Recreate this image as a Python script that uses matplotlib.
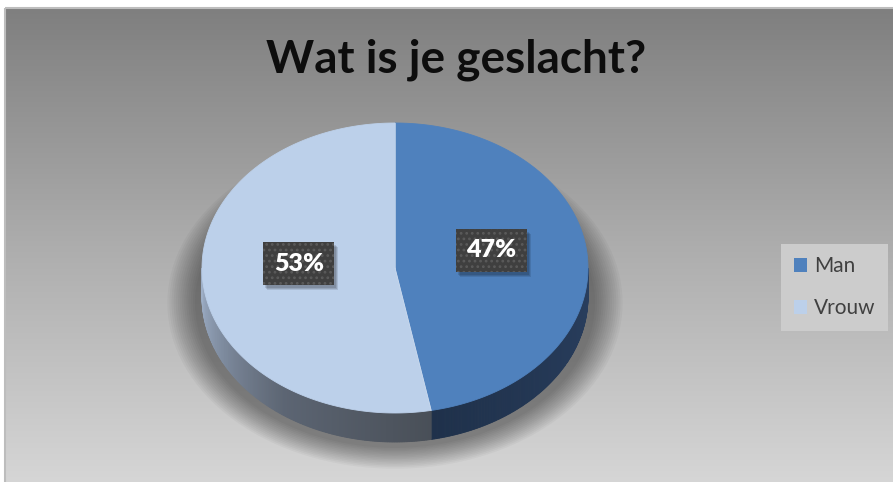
import numpy as np
import matplotlib
matplotlib.use("Agg")
import matplotlib.pyplot as plt
from matplotlib.patches import Polygon, Rectangle, Ellipse, Patch
from matplotlib.colors import LinearSegmentedColormap, to_rgb

# ---- data ----
title = "Wat is je geslacht?"
categories = ["Man", "Vrouw"]
values = [47, 53]
top_colors = ["#4F81BD", "#BCD0EA"]

W, H = 893, 482
FONT = "Lato"

fig = plt.figure(figsize=(W / 100, H / 100), dpi=100)
fig.patch.set_facecolor("white")
ax = fig.add_axes([0, 0, 1, 1])
ax.set_xlim(0, W)
ax.set_ylim(H, 0)
ax.axis("off")

# ---- chart background ----
grad = np.linspace(0, 1, 256)[:, None]
bg = LinearSegmentedColormap.from_list("bg", ["#7f7f7f", "#adadad", "#d6d6d6"])
ax.imshow(grad, extent=(5, W + 2, H + 2, 8), cmap=bg, aspect="auto", zorder=0,
          interpolation="bilinear")
ax.add_patch(Rectangle((5, 8), W, H, fill=False, edgecolor="#bdbdbd", lw=1.5, zorder=1))

# ---- title ----
ax.text(456, 60, title, ha="center", va="center", fontsize=33, fontweight="bold",
        family=FONT, color="#0d0d0d", zorder=10)

# ---- 3D pie geometry ----
cx, cy, a, b, depth = 395, 268, 193, 145, 29


def pt(theta, r=1.0, dz=0.0):
    t = np.radians(theta)
    return cx + a * r * np.sin(t), cy - b * r * np.cos(t) + dz


fr = np.array(values, float) / sum(values)
edges = np.concatenate([[0], np.cumsum(fr) * 360])

# soft shadow (mostly below / beside the pie)
for k in range(14):
    grow = 1 + 0.011 * k
    ax.add_patch(Ellipse((cx, cy + depth + 6), 2 * a * grow + 14, 2 * b * grow,
                         facecolor="black", edgecolor="none", alpha=0.03, zorder=2))

# side faces (front visible range 90..270)
side_cols = {
    0: [(90, "#2a3f5f"), (180, "#1d2f48")],
    1: [(165, "#474d55"), (215, "#5c6573"), (270, "#9fb0c8")],
}


def side_color(i, th):
    stops = side_cols[i]
    angs = [s[0] for s in stops]
    cols = np.array([to_rgb(s[1]) for s in stops])
    return tuple(np.interp(th, angs, cols[:, c]) for c in range(3))


for i in range(len(values)):
    t0, t1 = max(edges[i], 90), min(edges[i + 1], 270)
    if t1 <= t0:
        continue
    ths = np.linspace(t0, t1, int((t1 - t0) * 2) + 2)
    for u, v in zip(ths[:-1], ths[1:]):
        p1, p2 = pt(u), pt(v)
        p3, p4 = pt(v, dz=depth), pt(u, dz=depth)
        c = side_color(i, (u + v) / 2)
        ax.add_patch(Polygon([p1, p2, p3, p4], closed=True, facecolor=c, edgecolor=c,
                             lw=0.6, zorder=3))

# top faces
for i in range(len(values)):
    ths = np.linspace(edges[i], edges[i + 1], 200)
    xs, ys = pt(ths)
    poly = [(cx, cy)] + list(zip(xs, ys))
    ax.add_patch(Polygon(poly, closed=True, facecolor=top_colors[i],
                         edgecolor=top_colors[i], lw=0.6, zorder=4))
for e in edges[:-1]:
    x1, y1 = pt(e)
    ax.plot([cx, x1], [cy, y1], color="#d6e2f2", lw=0.6, alpha=0.6, zorder=5)

# ---- data labels ----
plt.rcParams["hatch.color"] = "#5e5e5e"
plt.rcParams["hatch.linewidth"] = 1.2
label_texts = []
for i in range(len(values)):
    mid = (edges[i] + edges[i + 1]) / 2
    x, y = pt(mid, r=0.5)
    y -= 11
    lab = f"{values[i]}%"
    t = ax.text(x, y, lab, ha="center", va="center", fontsize=18, fontweight="heavy",
                family=FONT, color="white", zorder=7,
                bbox=dict(boxstyle="square,pad=0.42", facecolor="#3f3f3f",
                          edgecolor="#5a5a5a", linewidth=0, hatch="..."))
    label_texts.append(t)

# drop shadows behind label boxes, derived from the boxes' rendered extents
fig.canvas.draw()
inv = ax.transData.inverted()
for t in label_texts:
    ext = t.get_bbox_patch().get_window_extent()
    (x0, y0), (x1, y1) = inv.transform([(ext.x0, ext.y0), (ext.x1, ext.y1)])
    for k, al in enumerate([0.12, 0.12, 0.1]):
        ax.add_patch(Rectangle((min(x0, x1) + 2 + k, min(y0, y1) + 3 + k),
                               abs(x1 - x0), abs(y1 - y0), facecolor="black",
                               edgecolor="none", alpha=al, zorder=6))

# ---- legend ----
handles = [Patch(facecolor=c, edgecolor="none") for c in top_colors]
leg = fig.legend(handles, categories, loc="upper left",
                 bbox_to_anchor=(781 / W, 1 - 244 / H), frameon=True, fancybox=False,
                 prop=dict(family=FONT, size=15), handlelength=0.65, handleheight=0.65,
                 handletextpad=0.35, labelspacing=1.05, borderpad=0.6, borderaxespad=0)
leg.get_frame().set_facecolor("#cccccc")
leg.get_frame().set_edgecolor("none")
leg.get_frame().set_alpha(1)
for tx in leg.get_texts():
    tx.set_color("#404040")

fig.savefig("out.png", dpi=100, facecolor="white")
